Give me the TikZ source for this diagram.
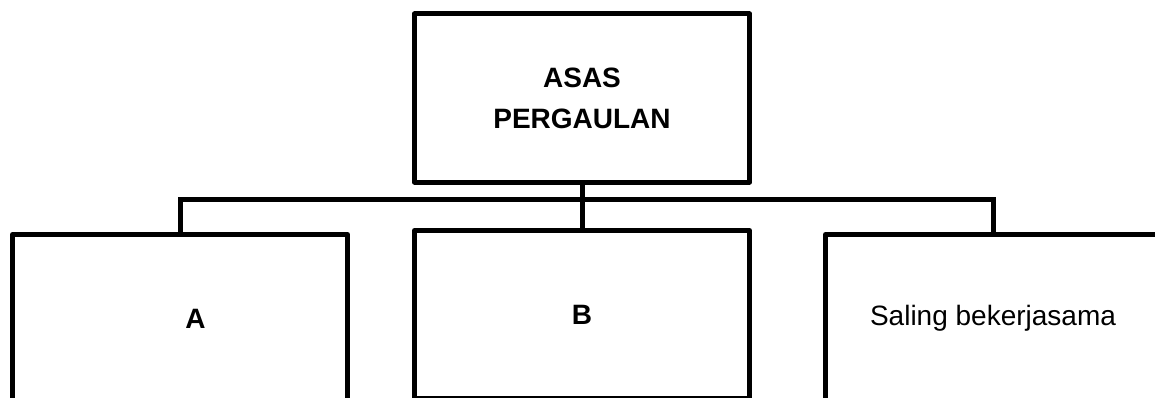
\documentclass[tikz,border=0pt]{standalone}
\usepackage{fontspec}
\setmainfont{Liberation Sans}
\usetikzlibrary{positioning}

\begin{document}
\begin{tikzpicture}[x=1pt, y=-1pt,
    box/.style={draw, line width=5pt, line join=round, outer sep=0pt, inner sep=0pt,
      minimum width=335pt, minimum height=168pt, align=center,
      font=\fontsize{28}{41}\selectfont}]
    \clip (0,0) rectangle (1155,398);
    \node[box, font=\fontsize{28}{41}\selectfont\bfseries] (top) at (582,98) {ASAS\\PERGAULAN};
    \node[box, font=\fontsize{28}{41}\selectfont\bfseries, below=48.5pt of top] (b) {B};
    \node[box, font=\fontsize{28}{41}\selectfont\bfseries, left=67pt of b, yshift=-4pt] (a) {\hspace*{31pt}A};
    \node[box, right=76pt of b, yshift=-4pt] (c) {Saling bekerjasama};
    \coordinate (bus) at (582,199.5);

    \draw[line width=5pt] (top) -- (b);
    \draw[line width=5pt] (a.north) |- (bus) -| (c.north);
\end{tikzpicture}
\end{document}
